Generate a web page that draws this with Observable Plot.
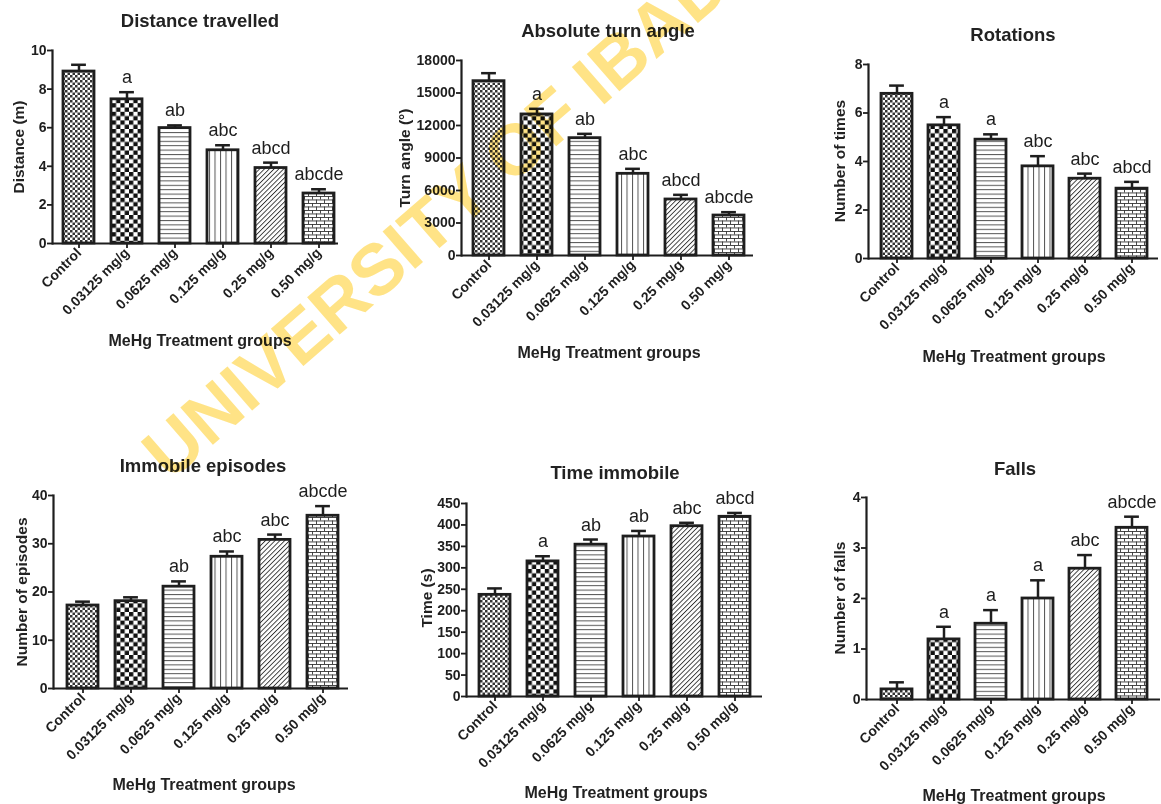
<!DOCTYPE html>
<html>
<head>
<meta charset="utf-8">
<script src="https://cdn.jsdelivr.net/npm/d3@7"></script>
<script src="https://cdn.jsdelivr.net/npm/@observablehq/plot@0.6"></script>
<style>
  html, body { margin: 0; padding: 0; background: #fff; }
  #root { position: relative; width: 1161px; height: 804px; background: #fff; overflow: hidden;
          font-family: "Liberation Sans", Arial, sans-serif; color: #222; }
  .panel { position: absolute; }
  .lbl { position: absolute; white-space: nowrap; font-weight: bold; line-height: 1; transform: translate(-50%, -50%); }
  .ylbl { transform: translate(-50%, -50%) rotate(-90deg); }
  #wm { position: absolute; left: 0; top: 0; pointer-events: none; mix-blend-mode: multiply; }
</style>
</head>
<body>
<div id="root">
<svg width="0" height="0" style="position:absolute">
  <defs>
    <pattern id="pat0" patternUnits="userSpaceOnUse" width="5" height="5">
      <rect width="5" height="5" fill="#fff"/>
      <rect x="0" y="0" width="2.5" height="2.5" fill="#333"/>
      <rect x="2.5" y="2.5" width="2.5" height="2.5" fill="#333"/>
    </pattern>
    <pattern id="pat1" patternUnits="userSpaceOnUse" width="8.6" height="8.6">
      <rect width="8.6" height="8.6" fill="#fff"/>
      <rect x="0" y="0" width="4.3" height="4.3" fill="#111"/>
      <rect x="4.3" y="4.3" width="4.3" height="4.3" fill="#111"/>
    </pattern>
    <pattern id="pat2" patternUnits="userSpaceOnUse" width="6" height="4.4">
      <rect width="6" height="4.4" fill="#fff"/>
      <rect x="0" y="0" width="6" height="1" fill="#555"/>
    </pattern>
    <pattern id="pat3" patternUnits="userSpaceOnUse" width="5.5" height="6">
      <rect width="5.5" height="6" fill="#fff"/>
      <rect x="0" y="0" width="1" height="6" fill="#555"/>
    </pattern>
    <pattern id="pat4" patternUnits="userSpaceOnUse" width="3.4" height="6" patternTransform="rotate(45)">
      <rect width="3.4" height="6" fill="#fff"/>
      <rect x="0" y="0" width="0.9" height="6" fill="#333"/>
    </pattern>
    <pattern id="pat5" patternUnits="userSpaceOnUse" width="8" height="7">
      <rect width="8" height="7" fill="#fff"/>
      <rect x="0" y="0" width="8" height="0.9" fill="#333"/>
      <rect x="0" y="3.5" width="8" height="0.9" fill="#333"/>
      <rect x="0" y="0" width="0.9" height="3.5" fill="#333"/>
      <rect x="4" y="3.5" width="0.9" height="3.5" fill="#333"/>
    </pattern>
  </defs>
</svg>
</div>
<script>
// ---------- data ----------
const groups = ["Control", "0.03125 mg/g", "0.0625 mg/g", "0.125 mg/g", "0.25 mg/g", "0.50 mg/g"];

const distanceMean = [8.91, 7.47, 5.98, 4.83, 3.91, 2.59];
const distanceSem  = [0.35, 0.37, 0.14, 0.26, 0.28, 0.22];
const distanceSig  = ["", "a", "ab", "abc", "abcd", "abcde"];

const turnMean = [16090, 13020, 10830, 7540, 5170, 3690];
const turnSem  = [740, 520, 400, 460, 430, 310];
const turnSig  = ["", "a", "ab", "abc", "abcd", "abcde"];

const rotationsMean = [6.79, 5.49, 4.90, 3.80, 3.29, 2.88];
const rotationsSem  = [0.34, 0.34, 0.22, 0.42, 0.21, 0.28];
const rotationsSig  = ["", "a", "a", "abc", "abc", "abcd"];

const episodesMean = [17.2, 18.1, 21.1, 27.3, 30.8, 35.8];
const episodesSem  = [0.8, 0.8, 1.1, 1.1, 1.1, 2.0];
const episodesSig  = ["", "", "ab", "abc", "abc", "abcde"];

const timeMean = [237, 315, 354, 373, 397, 419];
const timeSem  = [15, 12, 12, 13, 8, 9];
const timeSig  = ["", "a", "ab", "ab", "abc", "abcd"];

const fallsMean = [0.2, 1.19, 1.5, 2.0, 2.59, 3.4];
const fallsSem  = [0.14, 0.25, 0.27, 0.36, 0.27, 0.22];
const fallsSig  = ["", "a", "a", "a", "abc", "abcde"];

const distanceTicks  = [0, 2, 4, 6, 8, 10];
const turnTicks      = [0, 3000, 6000, 9000, 12000, 15000, 18000];
const rotationsTicks = [0, 2, 4, 6, 8];
const episodesTicks  = [0, 10, 20, 30, 40];
const timeTicks      = [0, 50, 100, 150, 200, 250, 300, 350, 400, 450];
const fallsTicks     = [0, 1, 2, 3, 4];

const xLabel = "MeHg Treatment groups";

// ---------- styling / layout ----------
const patternFills = ["url(#pat0)", "url(#pat1)", "url(#pat2)", "url(#pat3)", "url(#pat4)", "url(#pat5)"];
const FONT = '"Liberation Sans", Arial, sans-serif';
const INK = "#1e1e1e";

const panels = [
  {title: "Distance travelled", ylabel: "Distance (m)", mean: distanceMean, sem: distanceSem, sig: distanceSig, ticks: distanceTicks,
   left: 0, top: 0, width: 390, height: 335, axisX: 52, axisEnd: 338, yTopPx: 50, y0Px: 243, firstLeft: 62, lastRight: 336,
   titleXY: [200, 21], ylabelXY: [18.5, 147], xlabelXY: [200, 341]},
  {title: "Absolute turn angle", ylabel: "Turn angle (°)", mean: turnMean, sem: turnSem, sig: turnSig, ticks: turnTicks,
   left: 390, top: 0, width: 390, height: 345, axisX: 461, axisEnd: 753, yTopPx: 60, y0Px: 255, firstLeft: 472, lastRight: 746,
   titleXY: [608, 31], ylabelXY: [405, 158], xlabelXY: [609, 353]},
  {title: "Rotations", ylabel: "Number of times", mean: rotationsMean, sem: rotationsSem, sig: rotationsSig, ticks: rotationsTicks,
   left: 780, top: 0, width: 381, height: 345, axisX: 868, axisEnd: 1158, yTopPx: 64, y0Px: 258, firstLeft: 877, lastRight: 1150,
   titleXY: [1013, 35], ylabelXY: [840, 161], xlabelXY: [1014, 357]},
  {title: "Immobile episodes", ylabel: "Number of episodes", mean: episodesMean, sem: episodesSem, sig: episodesSig, ticks: episodesTicks,
   left: 0, top: 440, width: 390, height: 340, axisX: 53, axisEnd: 348, yTopPx: 495, y0Px: 688, firstLeft: 66, lastRight: 340,
   titleXY: [203, 466], ylabelXY: [21.5, 592], xlabelXY: [204, 785]},
  {title: "Time immobile", ylabel: "Time (s)", mean: timeMean, sem: timeSem, sig: timeSig, ticks: timeTicks,
   left: 390, top: 440, width: 390, height: 350, axisX: 466, axisEnd: 762, yTopPx: 503, y0Px: 696, firstLeft: 478, lastRight: 752,
   titleXY: [615, 473], ylabelXY: [427, 598], xlabelXY: [616, 793]},
  {title: "Falls", ylabel: "Number of falls", mean: fallsMean, sem: fallsSem, sig: fallsSig, ticks: fallsTicks,
   left: 780, top: 440, width: 381, height: 364, axisX: 866, axisEnd: 1160, yTopPx: 497, y0Px: 699, firstLeft: 877, lastRight: 1151,
   titleXY: [1015, 469], ylabelXY: [840, 598], xlabelXY: [1014, 796]}
];

const root = document.getElementById("root");
const BAR_STROKE = 2.8;
const CAP = 15;

function addLabel(text, xy, size, cls) {
  const d = document.createElement("div");
  d.className = "lbl" + (cls ? " " + cls : "");
  d.style.left = xy[0] + "px";
  d.style.top = xy[1] + "px";
  d.style.fontSize = size + "px";
  d.textContent = text;
  root.appendChild(d);
}

for (const p of panels) {
  const data = groups.map((g, i) => ({group: g, mean: p.mean[i], top: p.mean[i] + p.sem[i], sig: p.sig[i], fill: patternFills[i]}));
  const r0 = p.firstLeft + BAR_STROKE / 2 - p.left;
  const r1 = p.lastRight - BAR_STROKE / 2 - p.left;
  const W = r1 - r0;
  const b = 34 - BAR_STROKE;
  const pad = (W - 6 * b) / (W - b);
  const yMax = p.ticks[p.ticks.length - 1];

  const chart = Plot.plot({
    width: p.width,
    height: p.height,
    marginLeft: p.axisX - p.left,
    marginRight: p.left + p.width - p.axisEnd,
    marginTop: p.yTopPx - p.top,
    marginBottom: p.top + p.height - p.y0Px,
    style: {fontFamily: FONT, color: INK, background: "transparent", overflow: "visible"},
    x: {type: "band", domain: groups, range: [r0, r1], paddingInner: pad, paddingOuter: 0, axis: null},
    y: {domain: [0, yMax], axis: null},
    color: {type: "identity"},
    marks: [
      Plot.barY(data, {x: "group", y: "mean", fill: "fill", stroke: INK, strokeWidth: BAR_STROKE, strokeLinejoin: "miter"}),
      Plot.ruleX(data, {x: "group", y1: "mean", y2: "top", stroke: INK, strokeWidth: 2.5}),
      Plot.tickY(data, {x: "group", y: "top", stroke: INK, strokeWidth: 2.5, insetLeft: (b - CAP) / 2, insetRight: (b - CAP) / 2}),
      Plot.text(data, {x: "group", y: "top", text: "sig", lineAnchor: "bottom", dy: -9, fontSize: 18, fontWeight: "normal", fill: INK}),
      Plot.ruleY([0], {stroke: INK, strokeWidth: 2.2}),
      Plot.frame({anchor: "left", stroke: INK, strokeWidth: 2.2}),
      Plot.axisY({ticks: p.ticks, tickFormat: d => String(d), tickSize: 5, tickPadding: 1, fontSize: 14, fontWeight: "bold", label: null, strokeWidth: 1.8, stroke: INK, fill: INK}),
      Plot.axisX({tickRotate: -45, tickSize: 5, tickPadding: 2, fontSize: 14, fontWeight: "bold", label: null, strokeWidth: 1.8, stroke: INK, fill: INK})
    ]
  });
  chart.classList.add("panel");
  chart.style.left = p.left + "px";
  chart.style.top = p.top + "px";
  root.appendChild(chart);

  addLabel(p.title, p.titleXY, 18.5);
  addLabel(p.ylabel, p.ylabelXY, 15.5, "ylbl");
  addLabel(xLabel, p.xlabelXY, 16);
}

// watermark
const NS = "http://www.w3.org/2000/svg";
const wm = document.createElementNS(NS, "svg");
wm.setAttribute("id", "wm");
wm.setAttribute("width", 1161);
wm.setAttribute("height", 804);
const t = document.createElementNS(NS, "text");
t.setAttribute("x", 170);
t.setAttribute("y", 482);
t.setAttribute("transform", "rotate(-41 170 482)");
t.setAttribute("font-family", FONT);
t.setAttribute("font-weight", "bold");
t.setAttribute("font-size", 72);
t.setAttribute("fill", "#FFE386");
t.textContent = "UNIVERSITY OF IBADAN";
wm.appendChild(t);
root.appendChild(wm);
</script>
</body>
</html>
